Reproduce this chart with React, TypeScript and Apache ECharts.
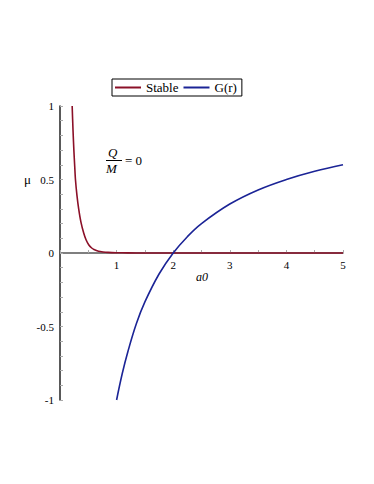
import React, { useEffect, useRef } from "react";
import * as echarts from "echarts";

// Stable curve
const stableR = [0.215, 0.23, 0.245, 0.26, 0.273, 0.3, 0.33, 0.37, 0.42, 0.46, 0.51, 0.56, 0.6, 0.68, 0.76, 0.85, 1.0, 1.2, 1.5, 2, 3, 4, 5];
const stableMu = [1.0, 0.835, 0.7, 0.59, 0.5, 0.39, 0.3, 0.21, 0.134, 0.09, 0.054, 0.034, 0.024, 0.012, 0.007, 0.004, 0.002, 0.001, 0, 0, 0, 0, 0];

// G(r) curve
const gR = [1, 1.1, 1.2, 1.35, 1.5, 1.75, 2, 2.25, 2.5, 3, 3.5, 4, 4.5, 5];
const gMu = [-1, -0.82, -0.67, -0.48, -0.333, -0.143, 0, 0.111, 0.2, 0.333, 0.429, 0.5, 0.556, 0.6];

const seriesNames = ["Stable", "G(r)"];
const seriesColors = ["#8B1028", "#1B2496"];

const SERIF = "'Liberation Serif', 'Times New Roman', serif";

export default function App() {
  const ref = useRef<HTMLDivElement>(null);
  useEffect(() => {
    if (!ref.current) return;
    const chart = echarts.init(ref.current, null, { renderer: "svg" });
    const fmt = (v: number) => {
      if (v === 0) return "0";
      return v < 0 ? "-" + String(-v) : String(v);
    };
    chart.setOption({
      animation: false,
      backgroundColor: "#fff",
      grid: [
        { left: 60, right: 31, top: 106, bottom: 84, containLabel: false },
        { left: 60, right: 31, top: 106, height: 147, containLabel: false },
      ],
      legend: {
        left: 112,
        top: 79,
        orient: "horizontal",
        borderColor: "#000",
        borderWidth: 1,
        borderRadius: 0,
        padding: [2, 5, 2, 3],
        itemGap: 5,
        itemWidth: 26,
        itemHeight: 2,
        icon: "rect",
        textStyle: { fontFamily: SERIF, fontSize: 13, color: "#000" },
        data: seriesNames,
      },
      xAxis: [
        {
          type: "value",
          gridIndex: 0,
          min: 0,
          max: 5,
          interval: 1,
          show: false,
          splitLine: { show: false },
        },
        {
          type: "value",
          gridIndex: 1,
          min: 0,
          max: 5,
          interval: 1,
          position: "bottom",
          axisLine: { show: true, onZero: false, lineStyle: { color: "#555", width: 1.5 } },
          axisTick: { show: true, inside: true, length: 3, lineStyle: { color: "#aaa" } },
          minorTick: { show: true, splitNumber: 2, length: 3, lineStyle: { color: "#aaa" } },
          splitLine: { show: false },
          axisLabel: {
            formatter: (v: number) => (v === 0 ? "" : String(v)),
            fontFamily: SERIF,
            fontSize: 11,
            color: "#000",
            margin: 6,
          },
        },
      ],
      yAxis: [
        {
          type: "value",
          gridIndex: 0,
          min: -1,
          max: 1,
          interval: 0.5,
          axisLine: { show: true, onZero: false, lineStyle: { color: "#222", width: 1.5 } },
          axisTick: { show: true, inside: true, length: 3, lineStyle: { color: "#aaa" } },
          minorTick: { show: true, splitNumber: 5, length: 3, lineStyle: { color: "#aaa" } },
          splitLine: { show: false },
          axisLabel: {
            formatter: fmt,
            fontFamily: SERIF,
            fontSize: 11,
            color: "#000",
            margin: 6,
          },
        },
        {
          type: "value",
          gridIndex: 1,
          min: 0,
          max: 1,
          show: false,
          splitLine: { show: false },
        },
      ],
      series: [
        {
          name: seriesNames[0],
          type: "line",
          xAxisIndex: 0,
          yAxisIndex: 0,
          data: stableR.map((r, i) => [r, stableMu[i]]),
          symbol: "none",
          smooth: 0.25,
          lineStyle: { color: seriesColors[0], width: 1.6 },
          itemStyle: { color: seriesColors[0] },
          z: 3,
        },
        {
          name: seriesNames[1],
          type: "line",
          xAxisIndex: 0,
          yAxisIndex: 0,
          data: gR.map((r, i) => [r, gMu[i]]),
          symbol: "none",
          smooth: 0.4,
          lineStyle: { color: seriesColors[1], width: 1.6 },
          itemStyle: { color: seriesColors[1] },
          z: 3,
        },
      ],
      graphic: [
        {
          type: "text",
          left: 24,
          top: 173,
          style: { text: "μ", font: `13px ${SERIF}`, fill: "#000" },
        },
        {
          type: "text",
          left: 196,
          top: 271,
          style: { text: "a0", font: `italic 12px ${SERIF}`, fill: "#000" },
        },
        {
          type: "text",
          left: 108,
          top: 146,
          style: { text: "Q", font: `italic 13px ${SERIF}`, fill: "#000" },
        },
        {
          type: "line",
          shape: { x1: 106, y1: 160.5, x2: 122, y2: 160.5 },
          style: { stroke: "#000", lineWidth: 1 },
        },
        {
          type: "text",
          left: 106,
          top: 162,
          style: { text: "M", font: `italic 13px ${SERIF}`, fill: "#000" },
        },
        {
          type: "text",
          left: 125,
          top: 154,
          style: { text: "= 0", font: `13px ${SERIF}`, fill: "#000" },
        },
      ],
    });
    return () => chart.dispose();
  }, []);
  return (
    <div
      ref={ref}
      style={{ position: "fixed", left: 0, top: 0, width: 374, height: 484, background: "#fff" }}
    />
  );
}
